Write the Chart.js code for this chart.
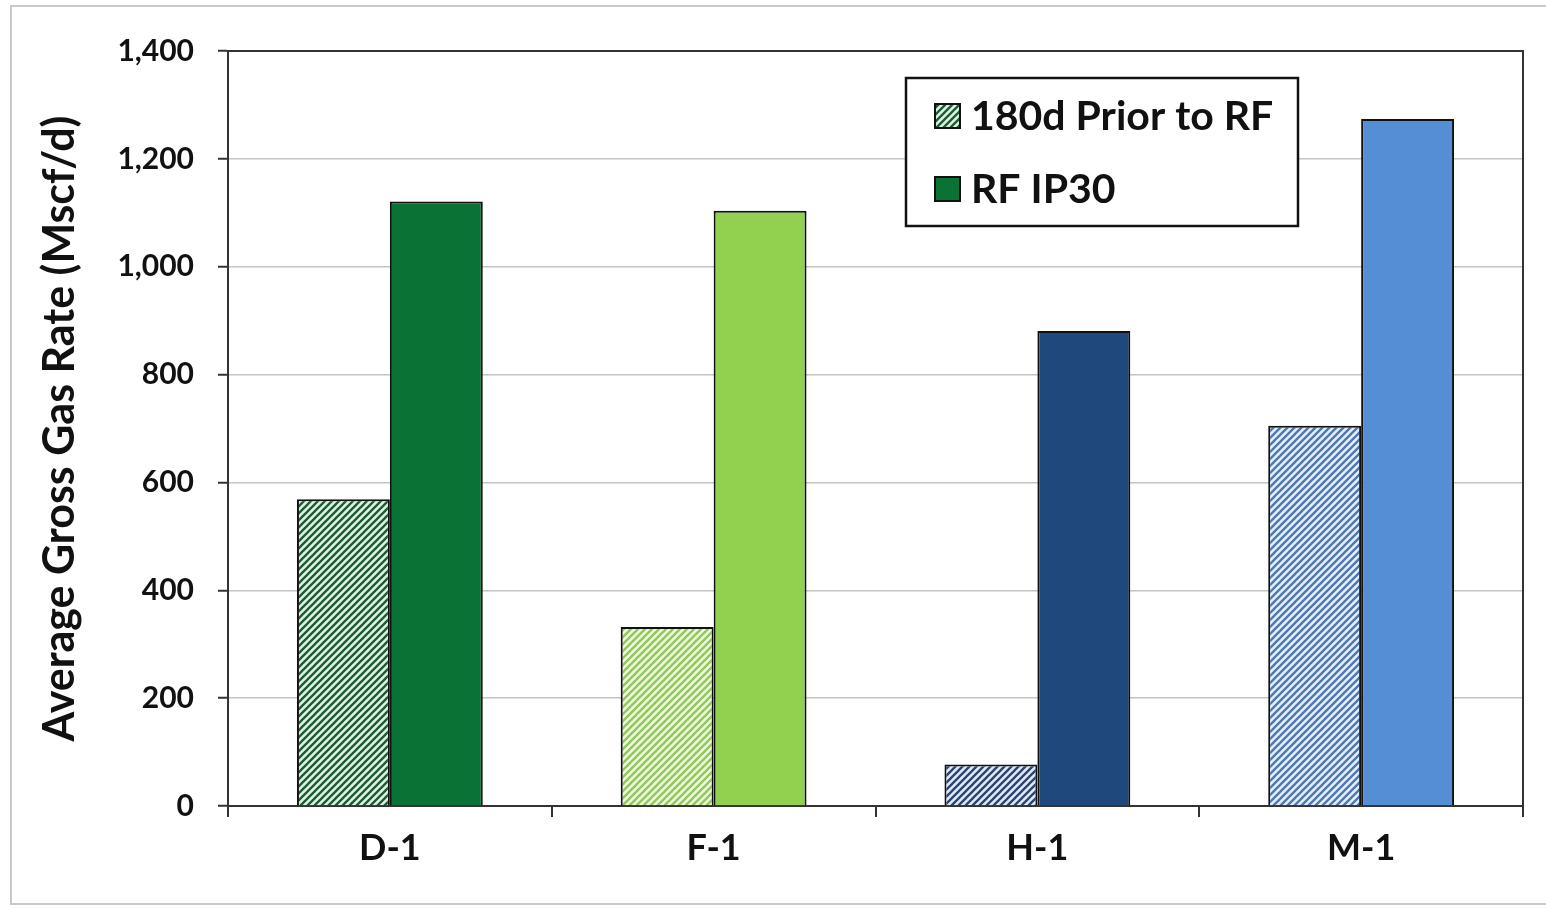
<!DOCTYPE html>
<html>
<head>
<meta charset="utf-8">
<script src="https://cdn.jsdelivr.net/npm/chart.js@4/dist/chart.umd.min.js"></script>
<style>
  html, body { margin: 0; padding: 0; background: #fff; }
  #wrap { position: relative; width: 1546px; height: 908px; }
  #frame { position: absolute; left: 10px; top: 5px; width: 1540px; height: 900px; border: 2px solid #c9c9c9; box-sizing: border-box; pointer-events: none; }
  canvas { position: absolute; left: 0; top: 0; }
</style>
</head>
<body>
<div id="wrap">
  <canvas id="c" width="1546" height="908"></canvas>
  <div id="frame"></div>
</div>
<script>
// ---- Data ----
const categories = ['D-1', 'F-1', 'H-1', 'M-1'];
const seriesNames = ['180d Prior to RF', 'RF IP30'];
const prior180d = [569, 332, 77, 705];
const rfIP30 = [1121, 1104, 881, 1274];
const yTicks = [0, 200, 400, 600, 800, 1000, 1200, 1400];

// ---- Colours per category ----
const solidColors = ['#0a7234', '#92d050', '#1f497d', '#558ed5'];
const hatchBg = ['#dcf3e3', '#eef8dc', '#dfe8f6', '#e3eefa'];
const hatchLine = ['#1d5a33', '#8fc95a', '#2a4470', '#4d78b0'];

function makeHatch(bg, line) {
  const s = 7;
  const c = document.createElement('canvas');
  c.width = s; c.height = s;
  const g = c.getContext('2d');
  g.fillStyle = bg; g.fillRect(0, 0, s, s);
  g.strokeStyle = line; g.lineWidth = 2.3; g.lineCap = 'square';
  g.beginPath();
  g.moveTo(0, s); g.lineTo(s, 0);
  g.moveTo(-s / 2, s / 2); g.lineTo(s / 2, -s / 2);
  g.moveTo(s / 2, s * 1.5); g.lineTo(s * 1.5, s / 2);
  g.stroke();
  return document.getElementById('c').getContext('2d').createPattern(c, 'repeat');
}
const hatchPatterns = hatchBg.map((b, i) => makeHatch(b, hatchLine[i]));

const FONT = 'Lato, "Open Sans", sans-serif';

const frameAndLegend = {
  id: 'frameAndLegend',
  afterDraw(chart) {
    const ctx = chart.ctx;
    const a = chart.chartArea;
    ctx.save();
    // top and right borders of plot area
    ctx.strokeStyle = '#333'; ctx.lineWidth = 2;
    ctx.beginPath();
    ctx.moveTo(a.left, a.top); ctx.lineTo(a.right, a.top); ctx.lineTo(a.right, a.bottom);
    ctx.stroke();
    // legend box
    const lx = 906, ly = 78, lw = 392, lh = 148;
    ctx.fillStyle = '#fff';
    ctx.fillRect(lx, ly, lw, lh);
    ctx.strokeStyle = '#111'; ctx.lineWidth = 2.5;
    ctx.strokeRect(lx, ly, lw, lh);
    const items = [
      { text: seriesNames[0], fill: hatchPatterns[0], y: 116 },
      { text: seriesNames[1], fill: solidColors[0], y: 189 }
    ];
    ctx.font = 'bold 41px ' + FONT;
    ctx.textBaseline = 'middle';
    items.forEach(it => {
      ctx.fillStyle = it.fill;
      ctx.fillRect(935, it.y - 12, 25, 24);
      ctx.strokeStyle = '#111'; ctx.lineWidth = 2;
      ctx.strokeRect(935, it.y - 12, 25, 24);
      ctx.fillStyle = '#111';
      ctx.fillText(it.text, 971, it.y + 1);
    });
    ctx.restore();
  }
};

new Chart(document.getElementById('c'), {
  type: 'bar',
  data: {
    labels: categories,
    datasets: [
      {
        label: seriesNames[0],
        data: prior180d,
        backgroundColor: hatchPatterns,
        borderColor: '#111',
        borderWidth: 2,
        categoryPercentage: 0.574,
        barPercentage: 1.0
      },
      {
        label: seriesNames[1],
        data: rfIP30,
        backgroundColor: solidColors,
        borderColor: '#111',
        borderWidth: 2,
        categoryPercentage: 0.574,
        barPercentage: 1.0
      }
    ]
  },
  options: {
    responsive: false,
    animation: false,
    devicePixelRatio: 1,
    layout: { padding: { top: 51, right: 23, bottom: 0, left: 10 } },
    plugins: { legend: { display: false }, tooltip: { enabled: false } },
    scales: {
      x: {
        offset: true,
        grid: {
          display: true, offset: true, drawOnChartArea: false, drawTicks: true,
          tickLength: 11, color: '#333', lineWidth: 2
        },
        border: { display: true, color: '#333', width: 2 },
        ticks: { color: '#111', padding: 10, font: { family: FONT, size: 36, weight: 'bold' } },
        afterFit(s) { s.height = 102; }
      },
      y: {
        min: 0, max: 1400,
        afterBuildTicks(s) { s.ticks = yTicks.map(v => ({ value: v })); },
        grid: {
          color: (c) => (c.tick && c.tick.value === 1400) ? '#333' : '#c4c4c4',
          lineWidth: 1.5, drawTicks: true, tickLength: 10, tickColor: '#333', tickWidth: 2
        },
        border: { display: true, color: '#333', width: 2 },
        ticks: {
          color: '#111', padding: 24,
          font: { family: FONT, size: 30, weight: 'bold' },
          callback: (v) => Number(v).toLocaleString('en-US')
        },
        title: {
          display: true, text: 'Average Gross Gas Rate (Mscf/d)', color: '#111',
          font: { family: FONT, size: 43, weight: 'bold' },
          padding: { top: 24, bottom: 0 }
        },
        afterFit(s) { s.width = 218; }
      }
    }
  },
  plugins: [frameAndLegend]
});
</script>
</body>
</html>
